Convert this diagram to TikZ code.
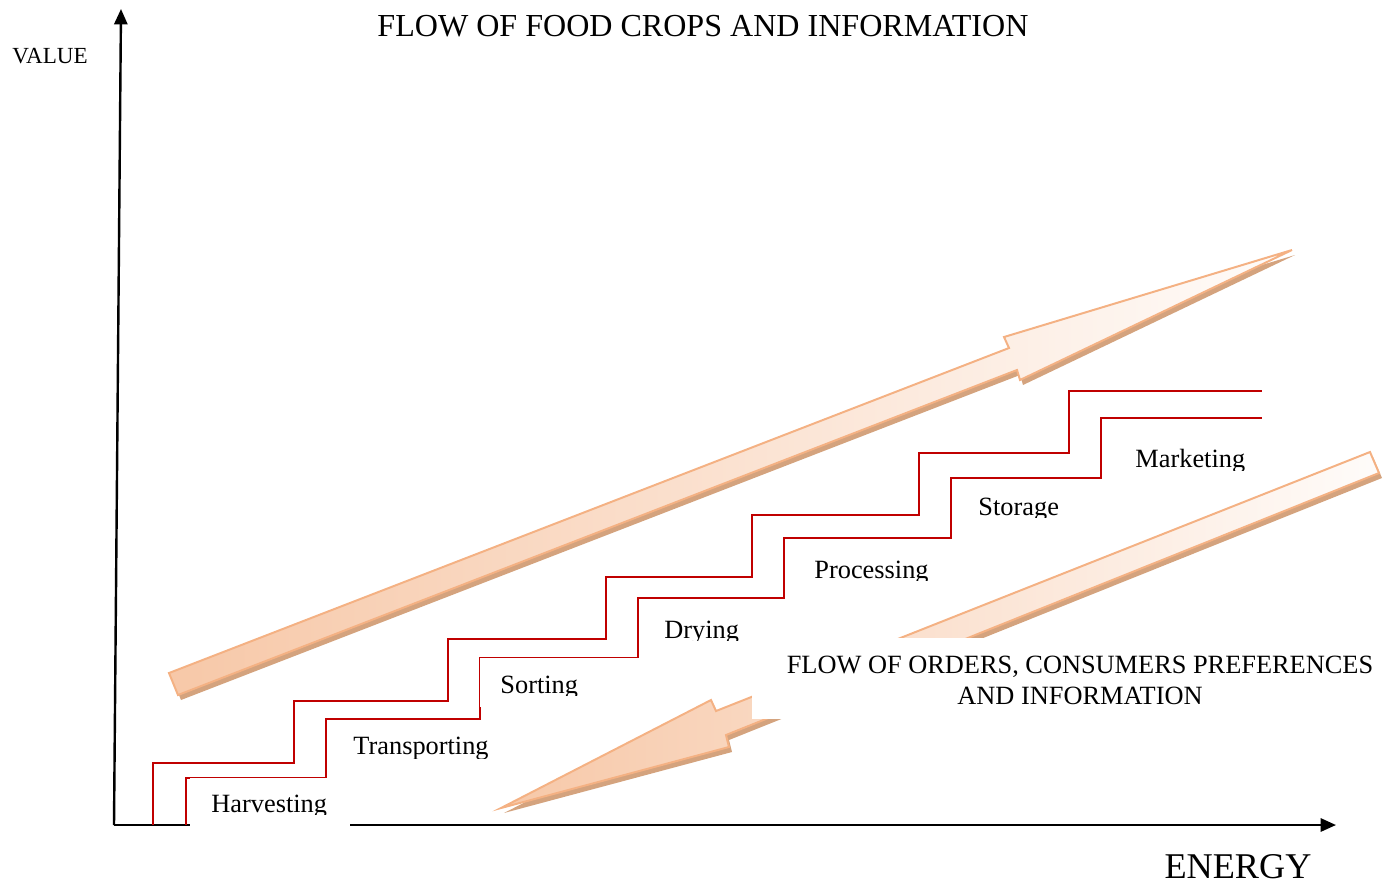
\documentclass[tikz,border=0pt]{standalone}
\usepackage{fontspec}
\setmainfont{Liberation Serif}
\usetikzlibrary{arrows.meta}

\definecolor{stairred}{HTML}{C00000}
\definecolor{arrowline}{HTML}{F4B183}
\definecolor{arrowfill}{HTML}{F7C8A8}
\definecolor{arrowshade}{HTML}{D4A37E}

% step name cut off below y = #2 (descenders trimmed by the text box)
\newcommand{\steplabel}[4]{%
  \begin{scope}
    \clip (0,0) rectangle (1390,#2);
    \node[steptext] (#1) at (#3) {#4};
  \end{scope}}

\begin{document}
\begin{tikzpicture}[x=0.016cm, y=-0.016cm,
  axis/.style={black, line width=1.1pt, -{Triangle[length=7pt,width=6pt]}},
  stair/.style={stairred, line width=0.9pt},
  bigarrow/.style={draw=arrowline, line width=0.9pt, line join=miter,
    left color=arrowfill, right color=white!94!arrowfill},
  arrowshadow/.style={fill=arrowshade},
  cover/.style={fill=white},
  steptext/.style={anchor=base west, inner sep=0pt, font=\fontsize{12}{14}\selectfont}]
\useasboundingbox (0,0) rectangle (1390,880);

% food crops: value rises towards the market
\fill[arrowshadow, shift={(3,5)}] (169,673) -- (1009,348) -- (1004,337) -- (1292,250)
  -- (1020,380) -- (1017,370) -- (178,695) -- cycle;
\path[bigarrow] (169,673) -- (1009,348) -- (1004,337) -- (1292,250)
  -- (1020,380) -- (1017,370) -- (178,695) -- cycle;

% orders and preferences: back from the market
\fill[arrowshadow, shift={(3,5)}] (1370,452) -- (1379,473) -- (726,735) -- (729,747)
  -- (501,808) -- (711,700) -- (716,711) -- cycle;
\path[bigarrow] (1370,452) -- (1379,473) -- (726,735) -- (729,747)
  -- (501,808) -- (711,700) -- (716,711) -- cycle;

% axes
\coordinate (origin) at (114,825);
\coordinate (valuetip) at (121,9);
\coordinate (energytip) at (1336,825);
\draw[axis] (origin) -- (valuetip);
\draw[axis] (origin) -- (energytip);

% the two stair lines
\draw[stair] (153,825) -- (153,763) -- (294,763) -- (294,701) -- (448,701) -- (448,639)
  -- (606,639) -- (606,577) -- (752,577) -- (752,515) -- (919,515) -- (919,453)
  -- (1069,453) -- (1069,391) -- (1262,391);
\draw[stair] (186,825) -- (186,778) -- (326,778) -- (326,719) -- (480,719) -- (480,658)
  -- (638,658) -- (638,598) -- (784,598) -- (784,538) -- (951,538) -- (951,478)
  -- (1101,478) -- (1101,418) -- (1262,418);

% text boxes
\fill[cover] (190,778) rectangle (350,828);
\fill[cover] (480,658) rectangle (640,707);
\fill[cover] (752,638) rectangle (1385,719);

\node[anchor=base, inner sep=0pt, font=\fontsize{14.6}{17}\selectfont] (title) at (703,36)
  {FLOW OF FOOD CROPS AND INFORMATION};
\node[anchor=base, inner sep=0pt, font=\fontsize{10.5}{12}\selectfont] (value) at (50,63) {VALUE};
\node[anchor=base, inner sep=0pt, font=\fontsize{16.5}{19}\selectfont] (energy) at (1238,878) {ENERGY};
\node[anchor=base, inner sep=0pt, align=center, font=\fontsize{12}{14}\selectfont] (orders)
  at (1080,704) {FLOW OF ORDERS, CONSUMERS PREFERENCES\\AND INFORMATION};

\steplabel{harvesting}{814}{211,812}{Harvesting}
\steplabel{transporting}{758}{353,754}{Transporting}
\steplabel{sorting}{695}{500,693}{Sorting}
\steplabel{drying}{640}{664,638}{Drying}
\steplabel{processing}{580}{814,578}{Processing}
\steplabel{storage}{517}{978,515}{Storage}
\steplabel{marketing}{470}{1135,467}{Marketing}
\end{tikzpicture}
\end{document}
